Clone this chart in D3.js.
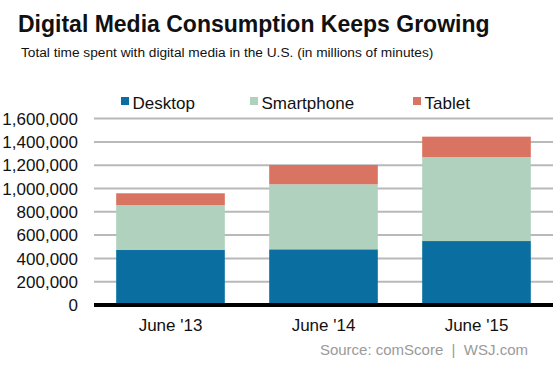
<!DOCTYPE html>
<html>
<head>
<meta charset="utf-8">
<script src="https://cdn.jsdelivr.net/npm/d3@7"></script>
<style>
  body { margin: 0; background: #fff; }
  svg { display: block; font-family: "Liberation Sans", Arial, sans-serif; }
</style>
</head>
<body>
<div id="chart"></div>
<script>
const categories = ["June '13", "June '14", "June '15"];
const seriesNames = ['Desktop', 'Smartphone', 'Tablet'];
const desktop = [472000, 478000, 549000];
const smartphone = [386000, 558000, 721000];
const tablet = [101000, 166000, 175000];
const yTicks = [0, 200000, 400000, 600000, 800000, 1000000, 1200000, 1400000, 1600000];
const colors = ['#0a6fa0', '#afd1be', '#da7462'];

const width = 553, height = 369;

const svg = d3.select('#chart')
    .append('svg')
    .attr('width', width)
    .attr('height', height);

// titles
svg.append('text')
    .attr('x', 18).attr('y', 31.5)
    .attr('font-size', 23).attr('font-weight', 'bold')
    .attr('fill', '#111')
    .text('Digital Media Consumption Keeps Growing');

svg.append('text')
    .attr('x', 21).attr('y', 57)
    .attr('font-size', 13.7)
    .attr('fill', '#111')
    .text('Total time spent with digital media in the U.S. (in millions of minutes)');

const rows = categories.map((c, i) => ({
    cat: c,
    Desktop: desktop[i],
    Smartphone: smartphone[i],
    Tablet: tablet[i],
}));

const stacked = d3.stack().keys(seriesNames)(rows);

const x = d3.scaleBand()
    .domain(categories)
    .range([94, 553])
    .paddingInner(0.29)
    .paddingOuter(0.145);

const y = d3.scaleLinear()
    .domain([0, 1600000])
    .range([305, 118.6]);

// gridlines
svg.append('g')
    .selectAll('line')
    .data(yTicks.filter(d => d > 0))
    .join('line')
    .attr('x1', 94).attr('x2', 553)
    .attr('y1', d => y(d)).attr('y2', d => y(d))
    .attr('stroke', '#b9b9b9')
    .attr('stroke-width', 2);

// y labels
svg.append('g')
    .selectAll('text')
    .data(yTicks)
    .join('text')
    .attr('x', 78)
    .attr('y', d => y(d))
    .attr('dy', '0.36em')
    .attr('text-anchor', 'end')
    .attr('font-size', 17)
    .attr('fill', '#111')
    .text(d => d3.format(',')(d));

// bars
svg.append('g')
    .selectAll('g')
    .data(stacked)
    .join('g')
    .attr('fill', (d, i) => colors[i])
    .selectAll('rect')
    .data(d => d)
    .join('rect')
    .attr('x', d => x(d.data.cat))
    .attr('width', x.bandwidth())
    .attr('y', d => y(d[1]))
    .attr('height', d => y(d[0]) - y(d[1]));

// baseline
svg.append('line')
    .attr('x1', 94).attr('x2', 553)
    .attr('y1', y(0)).attr('y2', y(0))
    .attr('stroke', '#000')
    .attr('stroke-width', 4);

// x labels
svg.append('g')
    .selectAll('text')
    .data(categories)
    .join('text')
    .attr('x', d => x(d) + x.bandwidth() / 2)
    .attr('y', 330.5)
    .attr('text-anchor', 'middle')
    .attr('font-size', 17)
    .attr('fill', '#111')
    .text(d => d);

// legend
const legendX = [121, 250, 413];
const legend = svg.append('g')
    .selectAll('g')
    .data(seriesNames)
    .join('g')
    .attr('transform', (d, i) => `translate(${legendX[i]},97)`);

legend.append('rect')
    .attr('width', 8).attr('height', 8)
    .attr('fill', (d, i) => colors[i]);

legend.append('text')
    .attr('x', 11.5).attr('y', 12)
    .attr('font-size', 17)
    .attr('fill', '#111')
    .text(d => d);

// source
svg.append('text')
    .attr('x', 528).attr('y', 355)
    .attr('text-anchor', 'end')
    .attr('font-size', 15)
    .attr('fill', '#9a9a9a')
    .style('white-space', 'pre')
    .text('Source: comScore  |  WSJ.com');
</script>
</body>
</html>
